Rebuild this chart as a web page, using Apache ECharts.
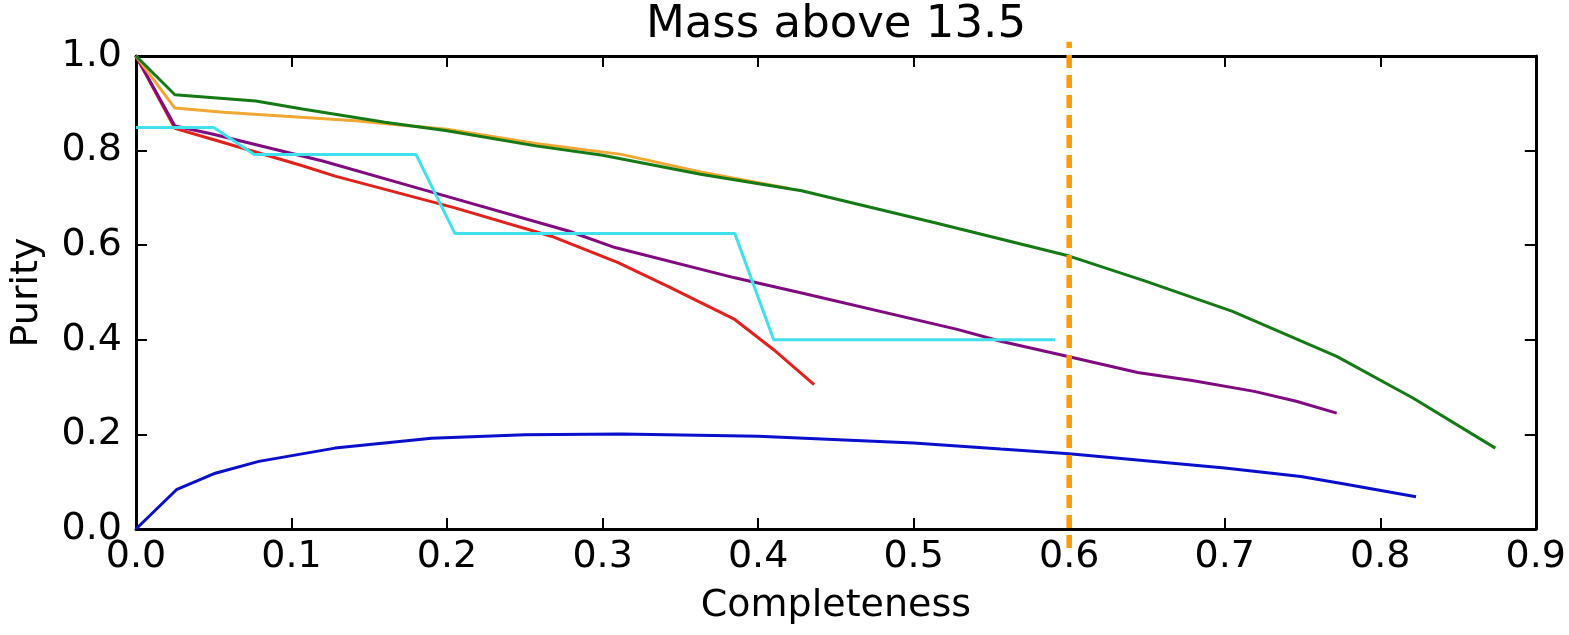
<!DOCTYPE html>
<html>
<head>
<meta charset="utf-8">
<script src="https://cdn.jsdelivr.net/npm/echarts@6/dist/echarts.min.js"></script>
<style>
html,body{margin:0;padding:0;background:#fff;}
#c{width:1569px;height:635px;}
</style>
</head>
<body>
<div id="c"></div>
<script>
const titleText = 'Mass above 13.5';
const xName = 'Completeness';
const yName = 'Purity';
const xTicks = [0, 0.1, 0.2, 0.3, 0.4, 0.5, 0.6, 0.7, 0.8, 0.9];
const yTicks = [0, 0.2, 0.4, 0.6, 0.8, 1.0];

// [completeness, purity]
const blue = [[0,0],[0.026,0.083],[0.051,0.118],[0.079,0.143],[0.128,0.171],[0.19,0.192],[0.25,0.199],[0.312,0.201],[0.4,0.196],[0.5,0.182],[0.556,0.169],[0.6,0.159],[0.7,0.129],[0.749,0.111],[0.777,0.095],[0.823,0.068]];
const red = [[0,1.0],[0.025,0.847],[0.049,0.824],[0.107,0.768],[0.128,0.746],[0.205,0.679],[0.267,0.619],[0.31,0.563],[0.342,0.513],[0.385,0.443],[0.41,0.379],[0.436,0.305]];
const purple = [[0,1.0],[0.025,0.852],[0.049,0.835],[0.12,0.778],[0.184,0.718],[0.278,0.63],[0.308,0.595],[0.385,0.531],[0.428,0.499],[0.528,0.422],[0.556,0.397],[0.6,0.364],[0.644,0.331],[0.679,0.314],[0.719,0.291],[0.746,0.27],[0.772,0.245]];
const cyan = [[0,0.849],[0.05,0.849],[0.076,0.792],[0.18,0.792],[0.205,0.625],[0.385,0.625],[0.41,0.4],[0.591,0.4]];
const orange = [[0,1.0],[0.025,0.89],[0.056,0.881],[0.141,0.863],[0.173,0.853],[0.2,0.845],[0.257,0.815],[0.312,0.792],[0.363,0.755],[0.42,0.72]];
const green = [[0,1.0],[0.025,0.918],[0.077,0.905],[0.107,0.888],[0.16,0.86],[0.2,0.842],[0.257,0.81],[0.3,0.79],[0.363,0.75],[0.428,0.715],[0.513,0.648],[0.6,0.577],[0.649,0.524],[0.705,0.46],[0.772,0.365],[0.821,0.277],[0.874,0.171]];
const cutLine = [[0.6,-0.04],[0.6,1.03]];

const FONT = 'DejaVu Sans';
const axisCommon = {
  type: 'value',
  axisLine: {onZero: false, lineStyle: {color: '#000', width: 3}},
  axisTick: {inside: true, length: 11, lineStyle: {color: '#000', width: 2}},
  splitLine: {show: false}
};

function lineSeries(data, color, z) {
  return {type: 'line', data: data, symbol: 'none', z: z,
    lineStyle: {color: color, width: 3}, itemStyle: {color: color}};
}

const chart = echarts.init(document.getElementById('c'));
chart.setOption({
  animation: false,
  backgroundColor: '#fff',
  grid: {left: 133, right: 32, top: 56, bottom: 106, show: false},
  xAxis: [
    Object.assign({}, axisCommon, {
      min: xTicks[0], max: xTicks[xTicks.length-1], interval: 0.1, position: 'bottom',
      axisLabel: {fontFamily: FONT, fontSize: 38, color: '#000', margin: 9,
        showMinLabel: true, showMaxLabel: true, formatter: v => v.toFixed(1)},
      name: xName, nameLocation: 'middle', nameGap: 58,
      nameTextStyle: {fontFamily: FONT, fontSize: 38, color: '#000'}
    }),
    Object.assign({}, axisCommon, {
      min: xTicks[0], max: xTicks[xTicks.length-1], interval: 0.1, position: 'top',
      axisLabel: {show: false}
    })
  ],
  yAxis: [
    Object.assign({}, axisCommon, {
      min: yTicks[0], max: yTicks[yTicks.length-1], interval: 0.2, position: 'left',
      axisLabel: {fontFamily: FONT, fontSize: 38, color: '#000', margin: 14,
        showMinLabel: true, showMaxLabel: true, formatter: v => v.toFixed(1)},
      name: yName, nameLocation: 'middle', nameGap: 90, nameRotate: 90,
      nameTextStyle: {fontFamily: FONT, fontSize: 38, color: '#000'}
    }),
    Object.assign({}, axisCommon, {
      min: yTicks[0], max: yTicks[yTicks.length-1], interval: 0.2, position: 'right',
      axisLabel: {show: false}
    })
  ],
  graphic: [{
    type: 'text', x: 836, y: 25,
    style: {text: titleText, fontFamily: FONT, fontSize: 45, fill: '#000',
      textAlign: 'center', textVerticalAlign: 'middle'}
  }],
  series: [
    lineSeries(blue, '#0a0fcc', 2),
    lineSeries(red, '#e0211c', 3),
    lineSeries(purple, '#800a80', 4),
    lineSeries(cyan, '#40e0ec', 5),
    lineSeries(orange, '#f0a833', 6),
    lineSeries(green, '#157a15', 7),
    {type: 'line', data: cutLine, symbol: 'none', clip: false, z: 8,
      lineStyle: {color: '#ff9a00', width: 5.5, type: [13, 7]}}
  ]
});
</script>
</body>
</html>
